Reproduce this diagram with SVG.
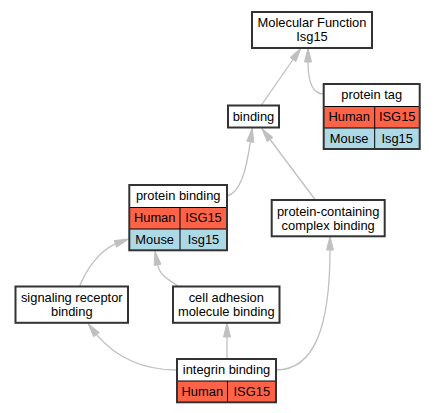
<svg xmlns="http://www.w3.org/2000/svg" width="436" height="413" viewBox="0 0 436 413">
<style>
.bg{fill:#ffffff}
.box{fill:#ffffff;stroke:#333333;stroke-width:2}
.frame{fill:none;stroke:#333333;stroke-width:2}
.human{fill:#ff6347}
.mouse{fill:#add8e6}
.sep{stroke:#000000;stroke-width:1;fill:none}
.edge{fill:none;stroke:#c0c0c0;stroke-width:1.3}
.ah{fill:#c0c0c0;stroke:#c0c0c0;stroke-width:1}
text{font-family:"Liberation Sans",Arial,sans-serif;font-size:12.9px;fill:#000000;text-anchor:middle}
</style>
<rect class="bg" x="0" y="0" width="436" height="413"/>
<g id="connectors">
  <path class="edge" d="M261.5,105 L293,59.5"/>
  <polygon class="ah" points="301,48 290.1,57.5 295.9,61.5"/>
  <path class="edge" d="M323.7,94 C313,94 308,82 308,62"/>
  <polygon class="ah" points="308,48 304.5,62 311.5,62"/>
  <path class="edge" d="M227,196 C240,193 246,172 250.3,141.8"/>
  <polygon class="ah" points="252.3,128 246.8,141.2 253.8,142.4"/>
  <path class="edge" d="M315,199.5 L270.1,139.5"/>
  <polygon class="ah" points="261.7,128.3 272.9,137.4 267.3,141.6"/>
  <path class="edge" d="M79.5,286.5 C86,270 98,252 115.4,243.9"/>
  <polygon class="ah" points="128.5,239 114.2,240.6 116.6,247.2"/>
  <path class="edge" d="M178.5,286.5 C170,280 160,276 157.6,264.8"/>
  <polygon class="ah" points="155,251 154.2,265.4 161,264.2"/>
  <path class="edge" d="M177,370 C140,370 115,356 96.5,334.6"/>
  <polygon class="ah" points="88,323.5 93.7,336.7 99.3,332.5"/>
  <path class="edge" d="M227,359 L227,337"/>
  <polygon class="ah" points="227,323 223.5,337 230.5,337"/>
  <path class="edge" d="M276,370 C315,370 330,325 330,250"/>
  <polygon class="ah" points="330,236.3 326.5,250 333.5,250"/>
</g>
<g id="node-molecular-function">
  <rect class="box" x="252" y="12" width="120" height="36"/>
  <text x="312" y="26.5">Molecular Function</text>
  <text x="312" y="40.9">Isg15</text>
</g>
<g id="node-protein-tag">
  <rect fill="#ffffff" x="323.7" y="84" width="96" height="22.5"/>
  <rect class="human" x="323.7" y="106.5" width="96" height="21.5"/>
  <rect class="mouse" x="323.7" y="128" width="96" height="21"/>
  <path class="sep" d="M323.7,106.5 H419.7 M323.7,128 H419.7 M374.7,106.5 V149"/>
  <rect class="frame" x="323.7" y="84" width="96" height="65"/>
  <text x="371.7" y="99.3">protein tag</text>
  <text x="349.2" y="121.3">Human</text>
  <text x="397.2" y="121.3">ISG15</text>
  <text x="349.2" y="142.5">Mouse</text>
  <text x="397.2" y="142.5">Isg15</text>
</g>
<g id="node-binding">
  <rect class="box" x="228" y="105.5" width="51" height="22"/>
  <text x="253.5" y="120.5">binding</text>
</g>
<g id="node-protein-binding">
  <rect fill="#ffffff" x="129.3" y="185" width="97.7" height="22.5"/>
  <rect class="human" x="129.3" y="207.5" width="97.7" height="21.5"/>
  <rect class="mouse" x="129.3" y="229" width="97.7" height="21.3"/>
  <path class="sep" d="M129.3,207.5 H227 M129.3,229 H227 M180,207.5 V250.3"/>
  <rect class="frame" x="129.3" y="185" width="97.7" height="65.3"/>
  <text x="178.2" y="200.3">protein binding</text>
  <text x="154.7" y="222.3">Human</text>
  <text x="203.5" y="222.3">ISG15</text>
  <text x="154.7" y="243.7">Mouse</text>
  <text x="203.5" y="243.7">Isg15</text>
</g>
<g id="node-protein-containing-complex-binding">
  <rect class="box" x="271.7" y="200" width="113" height="36.3"/>
  <text x="328.2" y="215.5">protein-containing</text>
  <text x="328.2" y="229.9">complex binding</text>
</g>
<g id="node-signaling-receptor-binding">
  <rect class="box" x="15.5" y="286.5" width="112.5" height="36.3"/>
  <text x="71.8" y="301.9">signaling receptor</text>
  <text x="71.8" y="316.3">binding</text>
</g>
<g id="node-cell-adhesion-molecule-binding">
  <rect class="box" x="173" y="286.5" width="106.5" height="36.3"/>
  <text x="226.3" y="301.9">cell adhesion</text>
  <text x="226.3" y="316.3">molecule binding</text>
</g>
<g id="node-integrin-binding">
  <rect fill="#ffffff" x="177" y="359" width="99" height="22"/>
  <rect class="human" x="177" y="381" width="99" height="21.3"/>
  <path class="sep" d="M177,381 H276 M227.5,381 V402.3"/>
  <rect class="frame" x="177" y="359" width="99" height="43.3"/>
  <text x="226.5" y="374">integrin binding</text>
  <text x="202.3" y="395.7">Human</text>
  <text x="251.8" y="395.7">ISG15</text>
</g>
</svg>
